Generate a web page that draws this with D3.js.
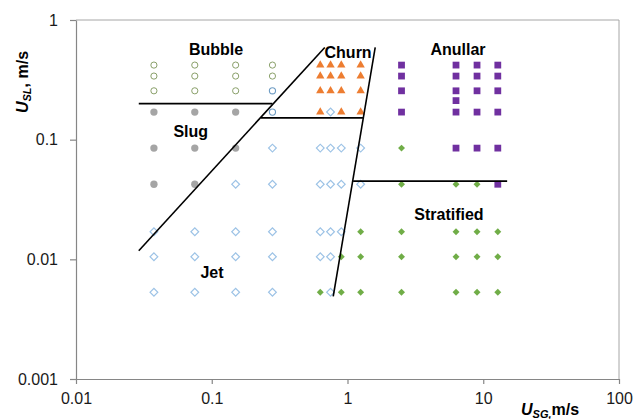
<!DOCTYPE html>
<html>
<head>
<meta charset="utf-8">
<script src="https://cdn.jsdelivr.net/npm/d3@7"></script>
<style>
  html, body { margin: 0; padding: 0; background: #fff; }
  svg { display: block; font-family: "Liberation Sans", Arial, sans-serif; }
</style>
</head>
<body>
<svg id="chart" width="644" height="419"></svg>
<script>
// Superficial gas velocity (m/s) columns and liquid velocity (m/s) rows of the test matrix
const usg = [0.0375, 0.075, 0.15, 0.28, 0.63, 0.75, 0.9, 1.25, 2.5, 6.3, 9, 12.8];
const usl = [0.42, 0.34, 0.256, 0.212, 0.17, 0.085, 0.0424, 0.017, 0.0105, 0.0053];

// Observed regime per point: [usg, usl]
const bubble = [
  [0.0375, 0.42], [0.075, 0.42], [0.15, 0.42], [0.28, 0.42],
  [0.0375, 0.34], [0.075, 0.34], [0.15, 0.34], [0.28, 0.34],
  [0.0375, 0.256], [0.075, 0.256], [0.15, 0.256]
];
const bubbleJet = [[0.28, 0.256], [0.28, 0.17]];
const slug = [
  [0.0375, 0.17], [0.075, 0.17], [0.15, 0.17],
  [0.0375, 0.085], [0.075, 0.085], [0.15, 0.085],
  [0.0375, 0.0424], [0.075, 0.0424]
];
const churn = [
  [0.63, 0.42], [0.75, 0.42], [0.9, 0.42], [1.25, 0.42],
  [0.63, 0.34], [0.75, 0.34], [0.9, 0.34], [1.25, 0.34],
  [0.63, 0.256], [0.75, 0.256], [0.9, 0.256], [1.25, 0.256],
  [0.63, 0.17], [0.9, 0.17], [1.25, 0.17]
];
const jet = [
  [0.75, 0.17],
  [0.28, 0.085], [0.63, 0.085], [0.75, 0.085], [0.9, 0.085], [1.25, 0.085],
  [0.15, 0.0424], [0.28, 0.0424], [0.63, 0.0424], [0.75, 0.0424], [0.9, 0.0424], [1.25, 0.0424],
  [0.0375, 0.017], [0.075, 0.017], [0.15, 0.017], [0.28, 0.017], [0.63, 0.017], [0.75, 0.017], [0.9, 0.017],
  [0.0375, 0.0105], [0.075, 0.0105], [0.15, 0.0105], [0.28, 0.0105], [0.63, 0.0105], [0.75, 0.0105],
  [0.0375, 0.0053], [0.075, 0.0053], [0.15, 0.0053], [0.28, 0.0053], [0.75, 0.0053]
];
const stratified = [
  [2.5, 0.085],
  [2.5, 0.0424], [6.3, 0.0424], [9, 0.0424],
  [1.25, 0.017], [2.5, 0.017], [6.3, 0.017], [9, 0.017], [12.8, 0.017],
  [0.9, 0.0105], [1.25, 0.0105], [2.5, 0.0105], [6.3, 0.0105], [9, 0.0105], [12.8, 0.0105],
  [0.63, 0.0053], [0.9, 0.0053], [1.25, 0.0053], [2.5, 0.0053], [6.3, 0.0053], [9, 0.0053], [12.8, 0.0053]
];
const annular = [
  [2.5, 0.42], [2.5, 0.34], [2.5, 0.256], [2.5, 0.17],
  [6.3, 0.42], [6.3, 0.34], [6.3, 0.256], [6.3, 0.212], [6.3, 0.17], [6.3, 0.085],
  [9, 0.42], [9, 0.34], [9, 0.256], [9, 0.17], [9, 0.085],
  [12.8, 0.42], [12.8, 0.34], [12.8, 0.256], [12.8, 0.17], [12.8, 0.085], [12.8, 0.0424]
];

// Regime transition boundaries
const boundaries = [
  [[0.029, 0.2], [0.28, 0.2]],          // bubble / slug
  [[0.029, 0.0118], [0.68, 0.59]],      // slug-bubble / jet
  [[0.23, 0.152], [1.3, 0.152]],        // slug / churn
  [[1.6, 0.59], [0.785, 0.0049]],       // churn-jet / annular-stratified
  [[1.1, 0.045], [15, 0.045]]           // annular / stratified
];

// Regime names and where they sit (usg, usl)
const regimeLabels = [
  { text: "Bubble", at: [0.1075, 0.572] },
  { text: "Slug", at: [0.070, 0.118] },
  { text: "Churn", at: [1.01, 0.54] },
  { text: "Anullar", at: [6.52, 0.572] },
  { text: "Stratified", at: [5.59, 0.0239] },
  { text: "Jet", at: [0.1004, 0.0077] }
];

const xTicks = [0.01, 0.1, 1, 10, 100];
const xTickLabels = ["0.01", "0.1", "1", "10", "100"];
const yTicks = [0.001, 0.01, 0.1, 1];
const yTickLabels = ["0.001", "0.01", "0.1", "1"];

const svg = d3.select("#chart");
const plot = { left: 76, top: 20, right: 619, bottom: 379 };

const x = d3.scaleLog().domain([0.01, 100]).range([plot.left, plot.right]);
const y = d3.scaleLog().domain([0.001, 1]).range([plot.bottom, plot.top]);

// plot area frame (top and right edges)
svg.append("path")
  .attr("d", `M${plot.left},${plot.top}H${plot.right}V${plot.bottom}`)
  .attr("fill", "none").attr("stroke", "#a6a6a6").attr("stroke-width", 1);

// axes
const xAxis = d3.axisBottom(x).tickValues(xTicks)
  .tickFormat((d, i) => xTickLabels[i]).tickSize(5).tickSizeOuter(0).tickPadding(9);
const yAxis = d3.axisLeft(y).tickValues(yTicks)
  .tickFormat((d, i) => yTickLabels[i]).tickSize(6).tickSizeOuter(0).tickPadding(12);

const gx = svg.append("g").attr("transform", `translate(0,${plot.bottom})`).call(xAxis);
const gy = svg.append("g").attr("transform", `translate(${plot.left},0)`).call(yAxis);
[gx, gy].forEach(g => {
  g.select(".domain").attr("stroke", "#868686").attr("stroke-width", 1.2);
  g.selectAll(".tick line").attr("stroke", "#868686").attr("stroke-width", 1.2);
  g.selectAll(".tick text").attr("fill", "#1a1a1a")
    .style("font-size", "16px").style("font-family", "'Liberation Sans', Arial, sans-serif");
});

// markers
const markers = svg.append("g");
function drawSeries(data, symbolType, size, style, rotate) {
  const gen = d3.symbol().type(symbolType).size(size);
  markers.append("g").selectAll("path").data(data).join("path")
    .attr("d", gen)
    .attr("transform", d => `translate(${x(d[0])},${y(d[1])})${rotate ? " rotate(45)" : ""}`)
    .attr("fill", style.fill || "none")
    .attr("stroke", style.stroke || "none")
    .attr("stroke-width", style.strokeWidth || 0);
}
drawSeries(jet, d3.symbolSquare, 30, { stroke: "#9dc3e6", strokeWidth: 1.2 }, true);
drawSeries(bubble, d3.symbolCircle, 30, { stroke: "#8aa06a", strokeWidth: 1 });
drawSeries(bubbleJet, d3.symbolCircle, 30, { stroke: "#6e9cc4", strokeWidth: 1.1 });
drawSeries(slug, d3.symbolCircle, 42, { fill: "#a5a5a5" });
drawSeries(churn, d3.symbolTriangle, 30, { fill: "#ed7d31" });
drawSeries(stratified, d3.symbolSquare, 24, { fill: "#70ad47" }, true);
drawSeries(annular, d3.symbolSquare, 46, { fill: "#7030a0" });

// regime boundaries
const line = d3.line().x(d => x(d[0])).y(d => y(d[1]));
svg.append("g").selectAll("path").data(boundaries).join("path")
  .attr("d", line)
  .attr("fill", "none").attr("stroke", "#000").attr("stroke-width", 1.6);

// regime names
svg.append("g").selectAll("text").data(regimeLabels).join("text")
  .attr("x", d => x(d.at[0])).attr("y", d => y(d.at[1]))
  .attr("text-anchor", "middle").attr("dominant-baseline", "central")
  .style("font-size", "16px").style("font-weight", "bold").attr("fill", "#000")
  .text(d => d.text);

// axis titles
const yTitle = svg.append("text")
  .attr("transform", "translate(28,82) rotate(-90)")
  .attr("text-anchor", "middle")
  .style("font-size", "16px").style("font-weight", "bold").attr("fill", "#000");
yTitle.append("tspan").style("font-style", "italic").text("U");
yTitle.append("tspan").style("font-style", "italic").style("font-size", "11px").attr("dy", "3").text("SL");
yTitle.append("tspan").attr("dy", "-3").text(", m/s");

const xTitle = svg.append("text")
  .attr("x", 521).attr("y", 415)
  .style("font-size", "16px").style("font-weight", "bold").attr("fill", "#000");
xTitle.append("tspan").style("font-style", "italic").text("U");
xTitle.append("tspan").style("font-style", "italic").style("font-size", "11px").attr("dy", "3").text("SG,");
xTitle.append("tspan").attr("dy", "-3").text("m/s");
</script>
</body>
</html>
